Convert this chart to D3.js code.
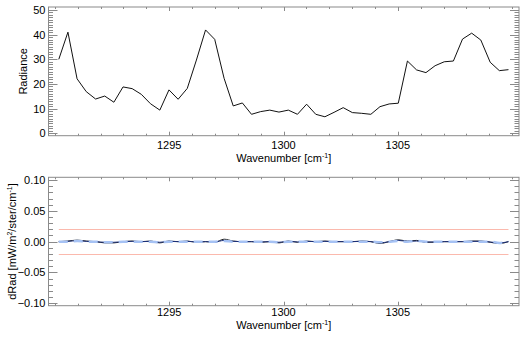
<!DOCTYPE html>
<html><head><meta charset="utf-8">
<script src="https://cdn.jsdelivr.net/npm/d3@7"></script>
<style>
html,body{margin:0;padding:0;background:#fff;}
svg text{font-family:"Liberation Sans",Arial,Helvetica,sans-serif;}
</style></head>
<body>
<svg id="c" width="528" height="338"></svg>
<script>
// ---- data ----
const wavenumber = [1290.17,1290.57,1290.97,1291.37,1291.78,1292.18,1292.58,1292.98,1293.38,1293.78,
  1294.18,1294.59,1294.99,1295.39,1295.79,1296.19,1296.59,1296.99,1297.40,1297.80,
  1298.20,1298.60,1299.00,1299.40,1299.80,1300.21,1300.61,1301.01,1301.41,1301.81,
  1302.21,1302.61,1303.01,1303.42,1303.82,1304.22,1304.62,1305.02,1305.42,1305.82,
  1306.23,1306.63,1307.03,1307.43,1307.83,1308.23,1308.63,1309.04,1309.44,1309.84];
const radiance = [30.0,41.0,22.1,16.9,13.9,15.1,12.6,18.8,18.1,15.8,
  12.0,9.4,17.6,13.8,18.2,29.7,41.9,38.1,22.3,11.1,
  12.3,7.7,8.8,9.4,8.6,9.4,7.7,11.8,7.7,6.7,
  8.5,10.4,8.4,8.1,7.7,10.8,11.9,12.2,29.3,25.7,
  24.6,27.4,29.0,29.3,38.2,40.6,37.8,28.8,25.4,25.8];
const dRadBlack = [0.000,0.001,0.0025,0.001,0.000,-0.002,-0.002,0.000,0.001,0.000,
  0.001,-0.002,0.001,0.000,0.001,-0.001,0.000,-0.001,0.004,0.001,
  0.000,0.000,-0.001,0.000,-0.002,0.001,-0.001,0.001,0.000,0.001,
  0.000,0.000,0.000,0.001,0.000,-0.003,0.000,0.003,0.001,0.002,
  -0.001,-0.001,0.000,0.000,0.000,0.001,0.001,-0.001,-0.003,0.000];
const dRadNavy = [0.000,0.0005,0.0015,0.0005,0.000,-0.001,-0.001,0.000,0.0005,0.000,
  0.0005,-0.001,0.0005,0.000,0.0005,-0.0005,0.000,-0.0005,0.002,0.0005,
  0.000,0.000,-0.0005,0.000,-0.001,0.0005,-0.0005,0.0005,0.000,0.0005,
  0.000,0.000,0.000,0.0005,0.000,-0.002,0.000,0.002,0.0005,0.001,
  -0.0005,-0.0005,0.000,0.000,0.000,0.0005,0.0005,-0.0005,-0.002,0.000];
const dRadBlue = [0,0,0.001,0,0,-0.001,-0.001,0,0,0,
  0,-0.001,0,0,0,0,0,0,0.001,0,
  0,0,0,0,-0.001,0,0,0,0,0,
  0,0,0,0,0,-0.001,0,0.001,0,0.001,
  0,0,0,0,0,0,0,0,-0.002,0];
const limits = [0.02, -0.02];
const xTicks = [1295, 1300, 1305];
const yTicksTop = [0, 10, 20, 30, 40, 50];
const yTicksBot = [-0.10, -0.05, 0.00, 0.05, 0.10];

// ---- layout ----
const svg = d3.select("#c");
const L = 48.5, R = 519;
const x = d3.scaleLinear().domain([1289.72, 1310.3]).range([L, R]);
const yT = d3.scaleLinear().domain([-0.97, 51.2]).range([135.7, 7]);
const yB = d3.scaleLinear().domain([-0.1039, 0.1044]).range([305.7, 177.3]);
const axisCol = "#8a8a8a";
const fs = 11;

function frame(y, yMajor, yMinor, yFmt, ylabelNodes, ylabX, xlabY, tickLabY) {
  const [b, t] = y.range();
  const g = svg.append("g");
  g.append("rect").attr("x", L).attr("y", t).attr("width", R - L).attr("height", b - t)
    .attr("fill", "none").attr("stroke", axisCol).attr("stroke-width", 1);
  const yd = y.domain();
  yMinor.filter(v => v >= yd[0] && v <= yd[1]).forEach(v => {
    const yy = Math.round(y(v)) + 0.5;
    const len = yMajor.some(m => Math.abs(m - v) < 1e-9) ? 9 : 4.5;
    g.append("line").attr("x1", L).attr("x2", L + len).attr("y1", yy).attr("y2", yy).attr("stroke", axisCol);
    g.append("line").attr("x1", R).attr("x2", R - len).attr("y1", yy).attr("y2", yy).attr("stroke", axisCol);
  });
  yMajor.forEach(v => {
    g.append("text").attr("x", L - 3).attr("y", y(v) + 4).attr("text-anchor", "end")
      .attr("font-size", fs).attr("fill", "#000").text(yFmt(v));
  });
  const xMinor = d3.range(1290, 1311, 1);
  xMinor.forEach(v => {
    const xx = Math.round(x(v)) + 0.5;
    const len = xTicks.includes(v) ? 4 : 2;
    g.append("line").attr("x1", xx).attr("x2", xx).attr("y1", b).attr("y2", b - len).attr("stroke", axisCol);
    g.append("line").attr("x1", xx).attr("x2", xx).attr("y1", t).attr("y2", t + len).attr("stroke", axisCol);
  });
  xTicks.forEach(v => {
    g.append("text").attr("x", x(v)).attr("y", tickLabY).attr("text-anchor", "middle")
      .attr("font-size", fs).attr("fill", "#000").text(v);
  });
  const xl = g.append("text").attr("x", (L + R) / 2).attr("y", xlabY).attr("text-anchor", "middle")
    .attr("font-size", fs).attr("fill", "#000");
  xl.append("tspan").text("Wavenumber [cm");
  xl.append("tspan").attr("font-size", 7).attr("dy", -4).text("-1");
  xl.append("tspan").attr("dy", 4).text("]");
  const cy = (t + b) / 2;
  const yl = g.append("text").attr("transform", `translate(${ylabX},${cy}) rotate(-90)`)
    .attr("text-anchor", "middle").attr("font-size", fs).attr("fill", "#000");
  ylabelNodes.forEach(n => {
    const ts = yl.append("tspan").text(n.t);
    if (n.sup) ts.attr("font-size", 7).attr("dy", -4);
    if (n.down) ts.attr("dy", 4);
  });
}

frame(yT, yTicksTop, d3.range(0, 51, 1), d3.format("d"), [{t: "Radiance"}], 27, 162, 149);
frame(yB, yTicksBot, d3.range(-10, 11, 1).map(v => v / 100), d3.format(".2f"),
  [{t: "dRad [mW/m"}, {t: "2", sup: true}, {t: "/ster/cm", down: true}, {t: "-1", sup: true}, {t: "]", down: true}], 16, 329, 316);

// top line
const lineT = d3.line().x((d, i) => x(wavenumber[i])).y(d => yT(d));
svg.append("path").datum(radiance).attr("d", lineT).attr("fill", "none")
  .attr("stroke", "#111").attr("stroke-width", 1);

// bottom panel
limits.forEach(v => {
  const yy = Math.round(yB(v)) + 0.5;
  svg.append("line").attr("x1", x(wavenumber[0])).attr("x2", x(wavenumber[wavenumber.length - 1]))
    .attr("y1", yy).attr("y2", yy).attr("stroke", "#fbb9ad").attr("stroke-width", 1);
});
const lineB = d3.line().x((d, i) => x(wavenumber[i])).y(d => yB(d)).curve(d3.curveMonotoneX);
svg.append("path").datum(dRadBlack).attr("d", lineB).attr("fill", "none")
  .attr("stroke", "#222").attr("stroke-width", 1);
svg.append("path").datum(dRadNavy).attr("d", lineB).attr("fill", "none")
  .attr("stroke", "#1a2f7a").attr("stroke-width", 1);
svg.append("path").datum(dRadBlue).attr("d", lineB).attr("fill", "none")
  .attr("stroke", "#a6c2f4").attr("stroke-width", 2.5).attr("stroke-dasharray", "9,6");
</script>
</body></html>
